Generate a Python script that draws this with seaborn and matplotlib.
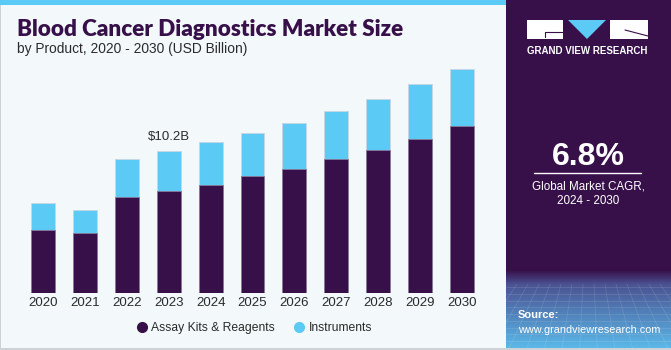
import matplotlib
matplotlib.use("Agg")
import matplotlib.pyplot as plt
import matplotlib.patches as mpatches
import numpy as np
import pandas as pd
import seaborn as sns

years = ["2020", "2021", "2022", "2023", "2024", "2025", "2026", "2027", "2028", "2029", "2030"]
assay_kits = [4.56, 4.30, 6.90, 7.33, 7.76, 8.41, 8.93, 9.63, 10.27, 11.08, 11.97]
instruments = [1.93, 1.67, 2.71, 2.87, 3.06, 3.10, 3.28, 3.42, 3.66, 3.90, 4.09]
series_names = ["Assay Kits & Reagents", "Instruments"]
annot_year = "2023"
annot_text = "$10.2B"

DARK = "#37104A"
CYAN = "#5BCBF5"
BG = "#F3F8FB"

sns.set_theme(style="white")
plt.rcParams['font.family'] = ['Liberation Sans', 'DejaVu Sans']

W, H = 671, 350
fig = plt.figure(figsize=(W / 100, H / 100), dpi=100)
fig.patch.set_facecolor("white")

def fx(px):
    return px / W

def fy(py):
    return 1 - py / H

def add_rect(x0, y0, x1, y1, color, z=-5):
    fig.patches.append(mpatches.Rectangle((fx(x0), fy(y1)), fx(x1 - x0), (y1 - y0) / H,
                                          transform=fig.transFigure, facecolor=color,
                                          edgecolor="none", zorder=z))

# background panels
add_rect(0, 0, 671, 350, "#CDD2D6", z=-6)
add_rect(1, 0, 506, 348, BG, z=-5)
add_rect(0, 0, 506, 5, CYAN, z=-4)
add_rect(506, 0, 671, 348, DARK, z=-5)

# gradient at bottom of right panel
gax = fig.add_axes([fx(506), fy(348), fx(165), (348 - 270) / H], zorder=-3)
n = 100
top_c = np.array([0x37, 0x10, 0x4A]) / 255
mid_c = np.array([0x4A, 0x52, 0x92]) / 255
bot_c = np.array([0x5B, 0xB8, 0xE8]) / 255
img = np.zeros((n, 1, 3))
for i in range(n):
    t = i / (n - 1)
    if t < 0.18:
        c = top_c + (mid_c - top_c) * (t / 0.18)
    else:
        c = mid_c + (bot_c - mid_c) * ((t - 0.18) / 0.82)
    img[i, 0] = c
gax.imshow(img, aspect="auto", extent=[0, 1, 1, 0])
for k in np.linspace(0.22, 1, 10):
    gax.axhline(k, color="white", alpha=0.12, lw=0.6)
for k in np.linspace(0, 1, 16):
    gax.plot([k, 0.5 + (k - 0.5) * 1.6], [0.18, 1], color="white", alpha=0.12, lw=0.6)
gax.set_xlim(0, 1)
gax.set_ylim(1, 0)
gax.axis("off")

# main chart
ax = fig.add_axes([fx(22), fy(293.3), fx(483 - 22), (293.3 - 49) / H])
ax.set_facecolor("none")
totals = [a + b for a, b in zip(assay_kits, instruments)]
df = pd.DataFrame({"year": years, "assay": assay_kits, "total": totals})
sns.barplot(data=df, x="year", y="total", color=CYAN, width=0.57, ax=ax, saturation=1,
            edgecolor="#C9D6E3", linewidth=0.6)
sns.barplot(data=df, x="year", y="assay", color=DARK, width=0.57, ax=ax, saturation=1,
            edgecolor="#8A7A99", linewidth=0.6)
ax.set_xlim(-0.5, len(years) - 0.5)
ax.set_ylim(0, 17.5)
ax.set_xlabel("")
ax.set_ylabel("")
ax.set_yticks([])
for s in ax.spines.values():
    s.set_visible(False)
ax.tick_params(axis="x", length=0, pad=3, labelsize=9.5, labelcolor="#2A2A2A")

i = years.index(annot_year)
ax.text(i, totals[i] + 0.55, annot_text, ha="center", va="bottom", fontsize=9.5, color="#2A2A2A")

# legend
handles = [plt.Line2D([], [], marker="o", ls="", color=DARK, markersize=7),
           plt.Line2D([], [], marker="o", ls="", color=CYAN, markersize=7)]
fig.legend(handles, series_names, loc="center", bbox_to_anchor=(fx(254), fy(328)), ncol=2,
           frameon=False, fontsize=8.7, handletextpad=0.3, columnspacing=1.5, labelcolor="#2A2A2A",
           handlelength=1.0)

# titles
fig.text(fx(17), fy(36), "Blood Cancer Diagnostics Market Size", fontsize=16.2, fontweight="heavy",
         color="#37104A", ha="left", va="baseline", family=["Lato", "Liberation Sans"])
fig.text(fx(17), fy(53), "by Product, 2020 - 2030 (USD Billion)", fontsize=9.9, color="#2A2A2A",
         ha="left", va="baseline")

# logo
fig.patches.append(mpatches.Rectangle((fx(527), fy(39)), fx(36), 19 / H, transform=fig.transFigure,
                                      facecolor="white", edgecolor="none", zorder=2))
fig.patches.append(mpatches.Polygon([(fx(568), fy(20)), (fx(606), fy(20)), (fx(587), fy(39))],
                                    closed=True, transform=fig.transFigure, facecolor=CYAN,
                                    edgecolor="none", zorder=2))
fig.patches.append(mpatches.Rectangle((fx(610), fy(39)), fx(38), 19 / H, transform=fig.transFigure,
                                      facecolor="white", edgecolor="none", zorder=2))
fig.lines.append(plt.Line2D([fx(545), fx(563)], [fy(32), fy(32)], transform=fig.transFigure,
                            color=DARK, lw=0.8, zorder=3))
fig.lines.append(plt.Line2D([fx(545), fx(545)], [fy(32), fy(37)], transform=fig.transFigure,
                            color=DARK, lw=0.8, zorder=3))
fig.lines.append(plt.Line2D([fx(625), fx(648)], [fy(30), fy(36)], transform=fig.transFigure,
                            color=DARK, lw=0.8, zorder=3))
fig.text(fx(587.5), fy(50.5), "GRAND VIEW RESEARCH", fontsize=7.0, fontweight="bold", color="white",
         ha="center", va="center")

# CAGR
fig.text(fx(588), fy(157), "6.8%", fontsize=23, fontweight="bold", color="white", ha="center", va="center")
fig.lines.append(plt.Line2D([fx(534), fx(641)], [fy(173), fy(173)], transform=fig.transFigure,
                            color="white", lw=1, zorder=3))
fig.text(fx(588), fy(186), "Global Market CAGR,", fontsize=8.4, color="white", ha="center", va="center")
fig.text(fx(588), fy(201.5), "2024 - 2030", fontsize=8.4, color="white", ha="center", va="center")

# source
fig.text(fx(518), fy(315), "Source:", fontsize=8, fontweight="bold", color="white", ha="left", va="center")
fig.text(fx(518), fy(330), "www.grandviewresearch.com", fontsize=7.8, color="white", ha="left", va="center")

fig.savefig("out.png", dpi=100, facecolor=fig.get_facecolor())
